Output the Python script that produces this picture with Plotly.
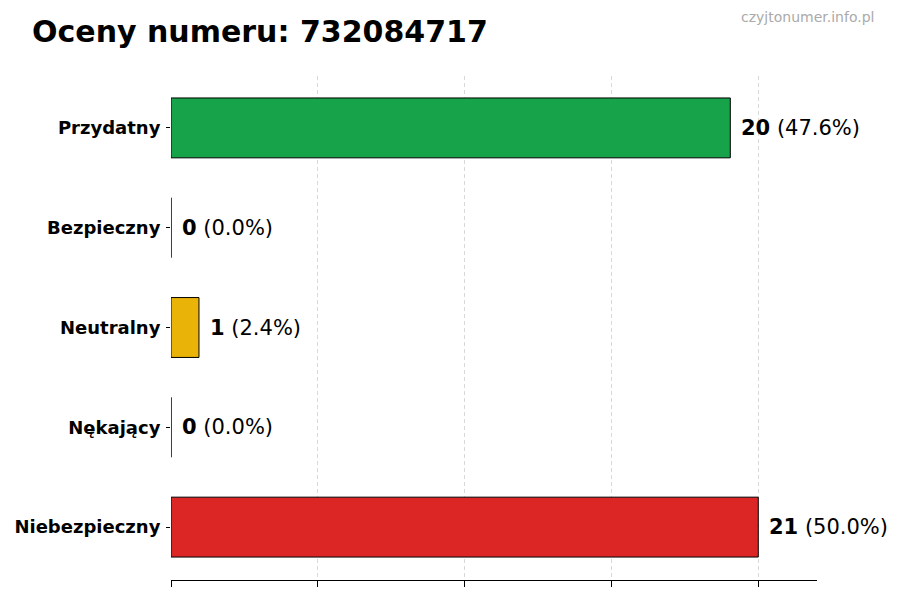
import plotly.graph_objects as go

# Ratings data (top to bottom as shown)
categories = ["Przydatny", "Bezpieczny", "Neutralny", "Nękający", "Niebezpieczny"]
counts = [20, 0, 1, 0, 21]
colors = ["#16a34a", "#2563eb", "#eab308", "#9333ea", "#dc2626"]
phone_number = "732084717"

total = sum(counts)
max_count = max(counts)
tick_vals = [max_count * i / 4 for i in range(5)]

# page body has an 8px margin, so everything is placed 8px up/left
OFF = 8
L, R, T, B = 171 - OFF, 900 - (817 - OFF), 76 - OFF, 600 - (580 - OFF)

fig = go.Figure()

fig.add_trace(
    go.Bar(
        x=counts,
        y=categories,
        orientation="h",
        width=0.6,
        marker=dict(color=colors, line=dict(color="black", width=1)),
        hoverinfo="skip",
    )
)

# Value labels: bold count + percentage
for cat, val in zip(categories, counts):
    pct = 100 * val / total if total else 0
    fig.add_annotation(
        x=val,
        y=cat,
        text=f"<b>{val}</b> ({pct:.1f}%)",
        showarrow=False,
        xanchor="left",
        xshift=9,
        font=dict(family="DejaVu Sans", size=21, color="black"),
    )

fig.update_layout(
    width=900,
    height=600,
    margin=dict(l=L, r=R, t=T, b=B),
    plot_bgcolor="white",
    paper_bgcolor="white",
    showlegend=False,
    font=dict(family="DejaVu Sans", color="black"),
    title=dict(
        text=f"<b>Oceny numeru: {phone_number}</b>",
        x=(32 - OFF) / 900,
        xanchor="left",
        y=1 - (31 - OFF) / 600,
        yanchor="middle",
        font=dict(family="DejaVu Sans", size=30, color="black"),
    ),
)

plot_w = 900 - L - R
plot_h = 600 - T - B
fig.add_annotation(
    text="czyjtonumer.info.pl",
    xref="paper",
    yref="paper",
    x=(876 - 171) / plot_w,
    y=1 + (76 - 17) / plot_h,
    xanchor="right",
    yanchor="middle",
    showarrow=False,
    font=dict(family="DejaVu Sans", size=14, color="#aaaaaa"),
)

fig.update_xaxes(
    range=[0, max_count * 1.1],
    tickvals=tick_vals,
    showticklabels=False,
    ticks="outside",
    ticklen=6,
    tickcolor="black",
    showline=True,
    linecolor="black",
    linewidth=1,
    showgrid=True,
    gridcolor="#d9d9d9",
    griddash="4px,3px",
    gridwidth=1,
    zeroline=False,
    automargin=False,
)

fig.update_yaxes(
    categoryorder="array",
    categoryarray=categories[::-1],
    range=[-0.53, 4.52],
    tickvals=categories,
    ticktext=[f"<b>{c}</b>" for c in categories],
    ticks="outside",
    ticklen=4,
    tickcolor="black",
    showline=False,
    showgrid=False,
    zeroline=False,
    tickfont=dict(family="DejaVu Sans", size=18, color="black"),
    ticklabelstandoff=2,
    automargin=False,
)

fig.write_html("out.html")
